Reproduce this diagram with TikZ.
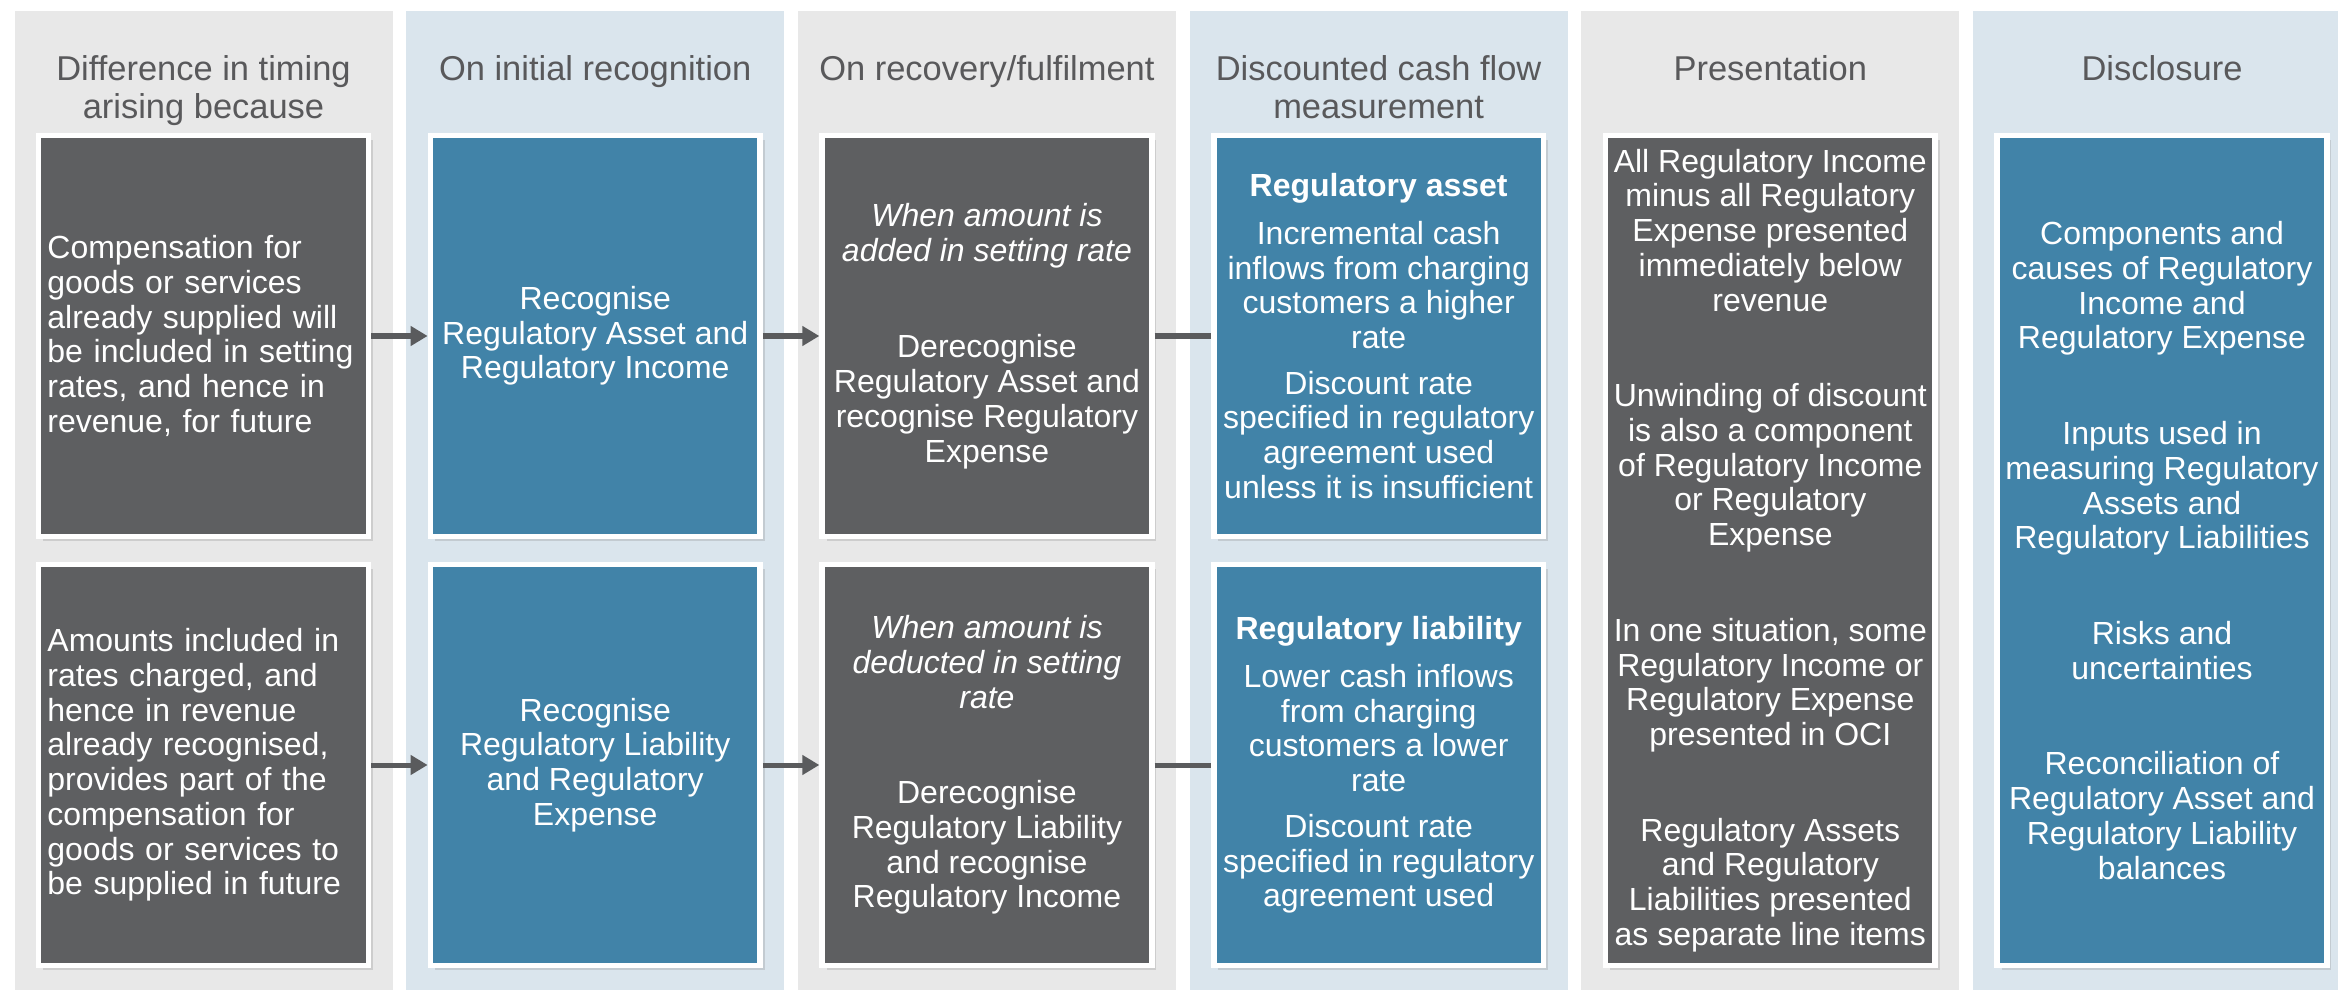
\documentclass[tikz,border=0pt]{standalone}
\usepackage{fontspec}
\setmainfont{Liberation Sans}
\usepackage{tikz}
\usetikzlibrary{positioning,arrows.meta,shadows}
\definecolor{colgrey}{RGB}{232,232,232}
\definecolor{colblue}{RGB}{218,229,237}
\definecolor{boxdark}{RGB}{94,95,97}
\definecolor{boxblue}{RGB}{65,131,168}
\definecolor{headgrey}{RGB}{89,89,91}
\definecolor{linkgrey}{RGB}{90,91,93}

\begin{document}
\begin{tikzpicture}[x=0.01cm, y=0.01cm, node distance=0.565cm,
  box/.style = {draw=white, line width=0.055cm, minimum width=3.295cm, minimum height=4.005cm, inner sep=0pt,
    text=white, align=center, font=\fontsize{9.1}{9.87}\selectfont,
    drop shadow={shadow xshift=0.045cm, shadow yshift=-0.045cm, opacity=0.25}},
  darkbox/.style = {box, fill=boxdark},
  bluebox/.style = {box, fill=boxblue},
  tall/.style = {minimum height=8.295cm},
  leftbox/.style = {darkbox, align=left, text width=3.12cm},
  head/.style = {anchor=north, inner sep=0pt, align=center, text=headgrey, font=\fontsize{9.8}{10.67}\selectfont},
  conn/.style = {linkgrey, line width=0.05cm}]

    \useasboundingbox (0,0) rectangle (2338,990);
    \foreach \lab/\col [count=\i] in {{Difference in timing\\arising because}/colgrey, {On initial recognition}/colblue,
        {On recovery/fulfilment}/colgrey, {Discounted cash flow\\measurement}/colblue, {Presentation}/colgrey, {Disclosure}/colblue} {
        \fill[\col] ({203.5+391.7*(\i-1)-189},0) rectangle ++(378,979);
        \node[head] (h\i) at ({203.5+391.7*(\i-1)},935) {\lab};
    }

    \node[leftbox] (cause1) at (203.5,654) {Compensation for\\goods or services\\already supplied will\\be included in setting\\rates, and hence in\\revenue, for future};
    \node[bluebox] (init1) [right=of cause1] {Recognise\\Regulatory Asset and\\Regulatory Income};
    \node[darkbox] (recov1) [right=of init1] {\textit{When amount is}\\\textit{added in setting rate}\\[0.62cm]Derecognise\\Regulatory Asset and\\recognise Regulatory\\Expense};
    \node[bluebox] (dcf1) [right=of recov1] {\textbf{Regulatory asset}\\[0.13cm]Incremental cash\\inflows from charging\\customers a higher\\rate\\[0.11cm]Discount rate\\specified in regulatory\\agreement used\\unless it is insufficient};

    \node[leftbox] (cause2) at (203.5,225) {Amounts included in\\rates charged, and\\hence in revenue\\already recognised,\\provides part of the\\compensation for\\goods or services to\\be supplied in future};
    \node[bluebox] (init2) [right=of cause2] {Recognise\\Regulatory Liability\\and Regulatory\\Expense};
    \node[darkbox] (recov2) [right=of init2] {\textit{When amount is}\\\textit{deducted in setting}\\\textit{rate}\\[0.61cm]Derecognise\\Regulatory Liability\\and recognise\\Regulatory Income};
    \node[bluebox] (dcf2) [right=of recov2] {\textbf{Regulatory liability}\\[0.13cm]Lower cash inflows\\from charging\\customers a lower\\rate\\[0.11cm]Discount rate\\specified in regulatory\\agreement used};

    \node[darkbox, tall] (pres) at (1770.3,439.5) {All Regulatory Income\\minus all Regulatory\\Expense presented\\immediately below\\revenue\\[0.61cm]Unwinding of discount\\is also a component\\of Regulatory Income\\or Regulatory\\Expense\\[0.61cm]In one situation, some\\Regulatory Income or\\Regulatory Expense\\presented in OCI\\[0.61cm]Regulatory Assets\\and Regulatory\\Liabilities presented\\as separate line items};
    \node[bluebox, tall] (discl) at (2162,439.5) {Components and\\causes of Regulatory\\Income and\\Regulatory Expense\\[0.61cm]Inputs used in\\measuring Regulatory\\Assets and\\Regulatory Liabilities\\[0.61cm]Risks and\\uncertainties\\[0.61cm]Reconciliation of\\Regulatory Asset and\\Regulatory Liability\\balances};

    \draw[conn, -{Triangle[length=0.17cm, width=0.19cm]}] (cause1) -- (init1);
    \draw[conn, -{Triangle[length=0.17cm, width=0.19cm]}] (init1) -- (recov1);
    \draw[conn] (recov1) -- (dcf1);
    \draw[conn, -{Triangle[length=0.17cm, width=0.19cm]}] (cause2) -- (init2);
    \draw[conn, -{Triangle[length=0.17cm, width=0.19cm]}] (init2) -- (recov2);
    \draw[conn] (recov2) -- (dcf2);

\end{tikzpicture}
\end{document}
